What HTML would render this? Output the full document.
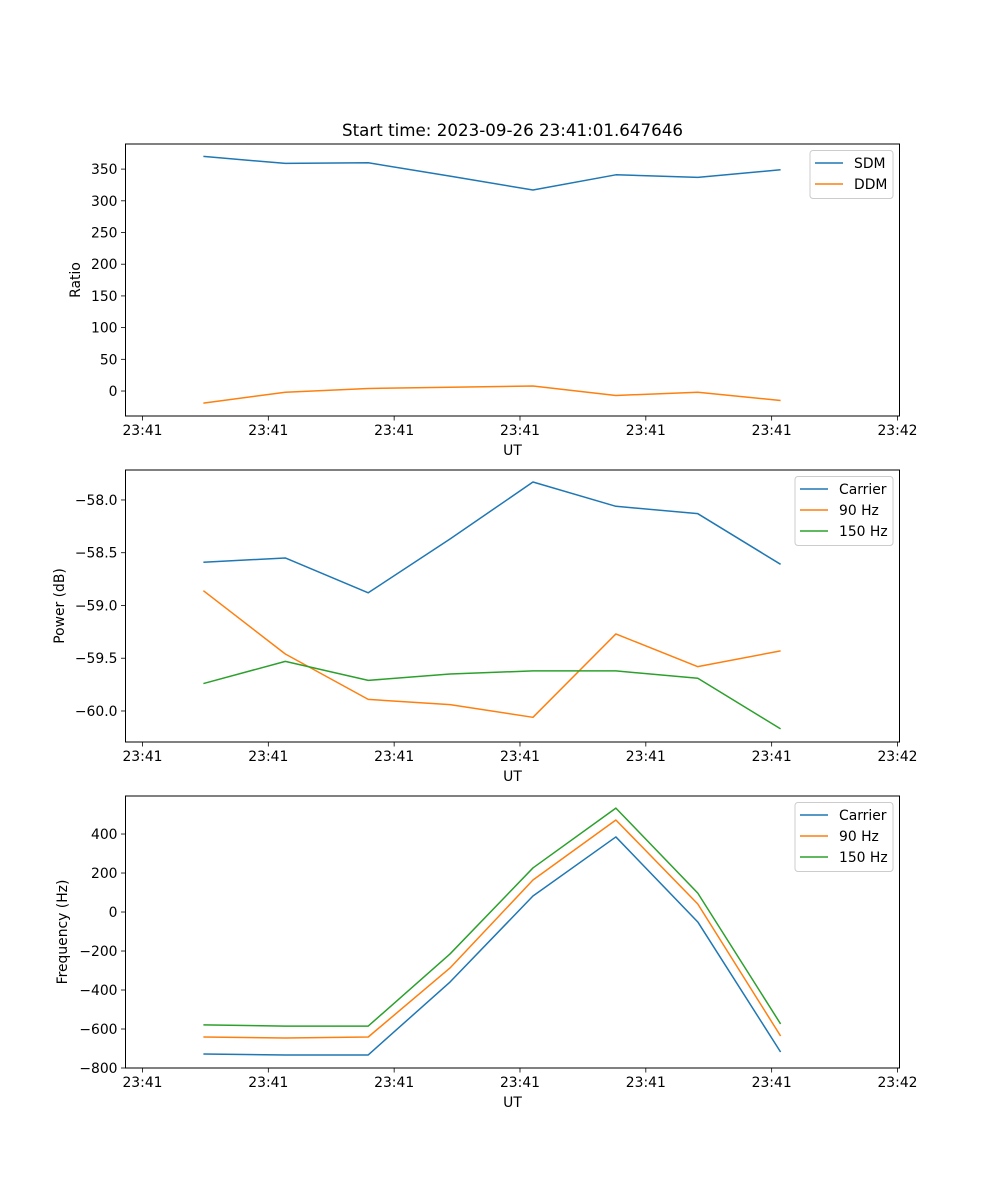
<!DOCTYPE html>
<html><head><meta charset="utf-8">
<style>
html,body{margin:0;padding:0;background:#fff;}
svg{display:block;font-family:"DejaVu Sans","Liberation Sans",sans-serif;}
</style></head>
<body>
<svg id="fig" width="1000" height="1200" viewBox="0 0 1000 1200" xmlns="http://www.w3.org/2000/svg"></svg>
<script>
const times = [4.84, 11.35, 17.94, 24.44, 31.03, 37.62, 44.13, 50.71];
const xTickValues = [0, 10, 20, 30, 40, 50, 60];
const xTickLabels = ["23:41","23:41","23:41","23:41","23:41","23:41","23:42"];
const sdm = [370, 359, 360, 339, 317, 341, 337, 349];
const ddm = [-19, -2, 4, 6, 8, -7, -2, -15];
const ratioTicks = [0, 50, 100, 150, 200, 250, 300, 350];
const powCarrier = [-58.59, -58.55, -58.88, -58.37, -57.83, -58.06, -58.13, -58.61];
const pow90 = [-58.86, -59.46, -59.89, -59.94, -60.06, -59.27, -59.58, -59.43];
const pow150 = [-59.74, -59.53, -59.71, -59.65, -59.62, -59.62, -59.69, -60.17];
const powTicks = [-58.0, -58.5, -59.0, -59.5, -60.0];
const freqCarrier = [-728, -733, -733, -359, 82, 385, -51, -718];
const freq90 = [-641, -646, -641, -287, 164, 472, 41, -636];
const freq150 = [-579, -585, -585, -215, 226, 533, 97, -574];
const freqTicks = [-800, -600, -400, -200, 0, 200, 400];

const NS = "http://www.w3.org/2000/svg";
const svg = document.getElementById("fig");
function mk(tag, attrs, parent){
  const e = document.createElementNS(NS, tag);
  for (const k in attrs) e.setAttribute(k, attrs[k]);
  (parent||svg).appendChild(e);
  return e;
}
const L = 125.5, R = 899.5;
const FS = "13.9";
const xDomain = [-1.35, 60.16];
function xs(v){ return L + (v - xDomain[0]) / (xDomain[1] - xDomain[0]) * (R - L); }
const C = {blue:"#1f77b4", orange:"#ff7f0e", green:"#2ca02c"};

function panel(name, top, bottom, yDom, yTicks, yFmt, ylabel, series, legend){
  const g = mk("g", {});
  
  
  function ys(v){ return bottom - (v - yDom[0]) / (yDom[1] - yDom[0]) * (bottom - top); }
  series.forEach(s => {
    const pts = s.data.map((v,i)=> xs(times[i]).toFixed(2)+","+ys(v).toFixed(2)).join(" ");
    const p = mk("polyline", {points: pts, fill:"none", stroke:s.color, "stroke-width":"1.5", "stroke-linejoin":"round"}, g);
    
    
  });
  const fr = mk("rect", {x:L, y:top, width:R-L, height:bottom-top, fill:"none", stroke:"#000", "stroke-width":"1"}, g);
  
  
  xTickValues.forEach((v,i)=>{
    const x = xs(v);
    mk("line", {x1:x, x2:x, y1:bottom, y2:bottom+4.5, stroke:"#000", "stroke-width":"0.8"}, g);
    const t = mk("text", {x:x, y:bottom+19, "text-anchor":"middle", "font-size":FS, fill:"#000"}, g);
    t.textContent = xTickLabels[i];
    
    
  });
  const xl = mk("text", {x:(L+R)/2, y:bottom+39, "text-anchor":"middle", "font-size":FS}, g);
  xl.textContent = "UT";
  
  
  yTicks.forEach(v=>{
    const y = ys(v);
    mk("line", {x1:L-4.5, x2:L, y1:y, y2:y, stroke:"#000", "stroke-width":"0.8"}, g);
    const t = mk("text", {x:L-8, y:y+5, "text-anchor":"end", "font-size":FS}, g);
    t.textContent = yFmt(v);
    
    
  });
  const yl = mk("text", {x:0, y:0, "text-anchor":"middle", "font-size":FS,
    transform:"translate("+legend.ylx+","+((top+bottom)/2)+") rotate(-90)"}, g);
  yl.textContent = ylabel;
  
  
  const lg = mk("g", {}, g);
  
  
  const lx = legend.x, ly = top + 6.5, lw = R - 6.5 - lx, lh = series.length*21 + 6;
  mk("rect", {x:lx, y:ly, width:lw, height:lh, rx:3, fill:"#fff", "fill-opacity":"0.8", stroke:"#ccc", "stroke-width":"1"}, lg);
  series.forEach((s,i)=>{
    const yy = ly + 12.5 + i*21;
    const e = mk("g", {}, lg);
    
    
    mk("line", {x1:lx+5, x2:lx+33, y1:yy, y2:yy, stroke:s.color, "stroke-width":"1.5"}, e);
    const t = mk("text", {x:lx+44, y:yy+5, "font-size":FS}, e);
    t.textContent = s.label;
  });
}

const title = mk("text", {x:(L+R)/2, y:136, "text-anchor":"middle", "font-size":"16.7"});
title.textContent = "Start time: 2023-09-26 23:41:01.647646";



panel("ratio-panel", 144, 416, [-39.4, 389.6], ratioTicks, v=>String(v), "Ratio",
  [{id:"sdm-line", data:sdm, color:C.blue, label:"SDM"},
   {id:"ddm-line", data:ddm, color:C.orange, label:"DDM"}],
  {x:810, ylx:80});
panel("power-panel", 470, 742, [-60.294, -57.716], powTicks, v=>"\u2212"+Math.abs(v).toFixed(1), "Power (dB)",
  [{id:"carrier-power-line", data:powCarrier, color:C.blue, label:"Carrier"},
   {id:"90hz-power-line", data:pow90, color:C.orange, label:"90 Hz"},
   {id:"150hz-power-line", data:pow150, color:C.green, label:"150 Hz"}],
  {x:795, ylx:64});
panel("frequency-panel", 796, 1068, [-800, 595], freqTicks, v=>(v<0?"\u2212":"")+Math.abs(v), "Frequency (Hz)",
  [{id:"carrier-frequency-line", data:freqCarrier, color:C.blue, label:"Carrier"},
   {id:"90hz-frequency-line", data:freq90, color:C.orange, label:"90 Hz"},
   {id:"150hz-frequency-line", data:freq150, color:C.green, label:"150 Hz"}],
  {x:795, ylx:67});
</script>
</body></html>
